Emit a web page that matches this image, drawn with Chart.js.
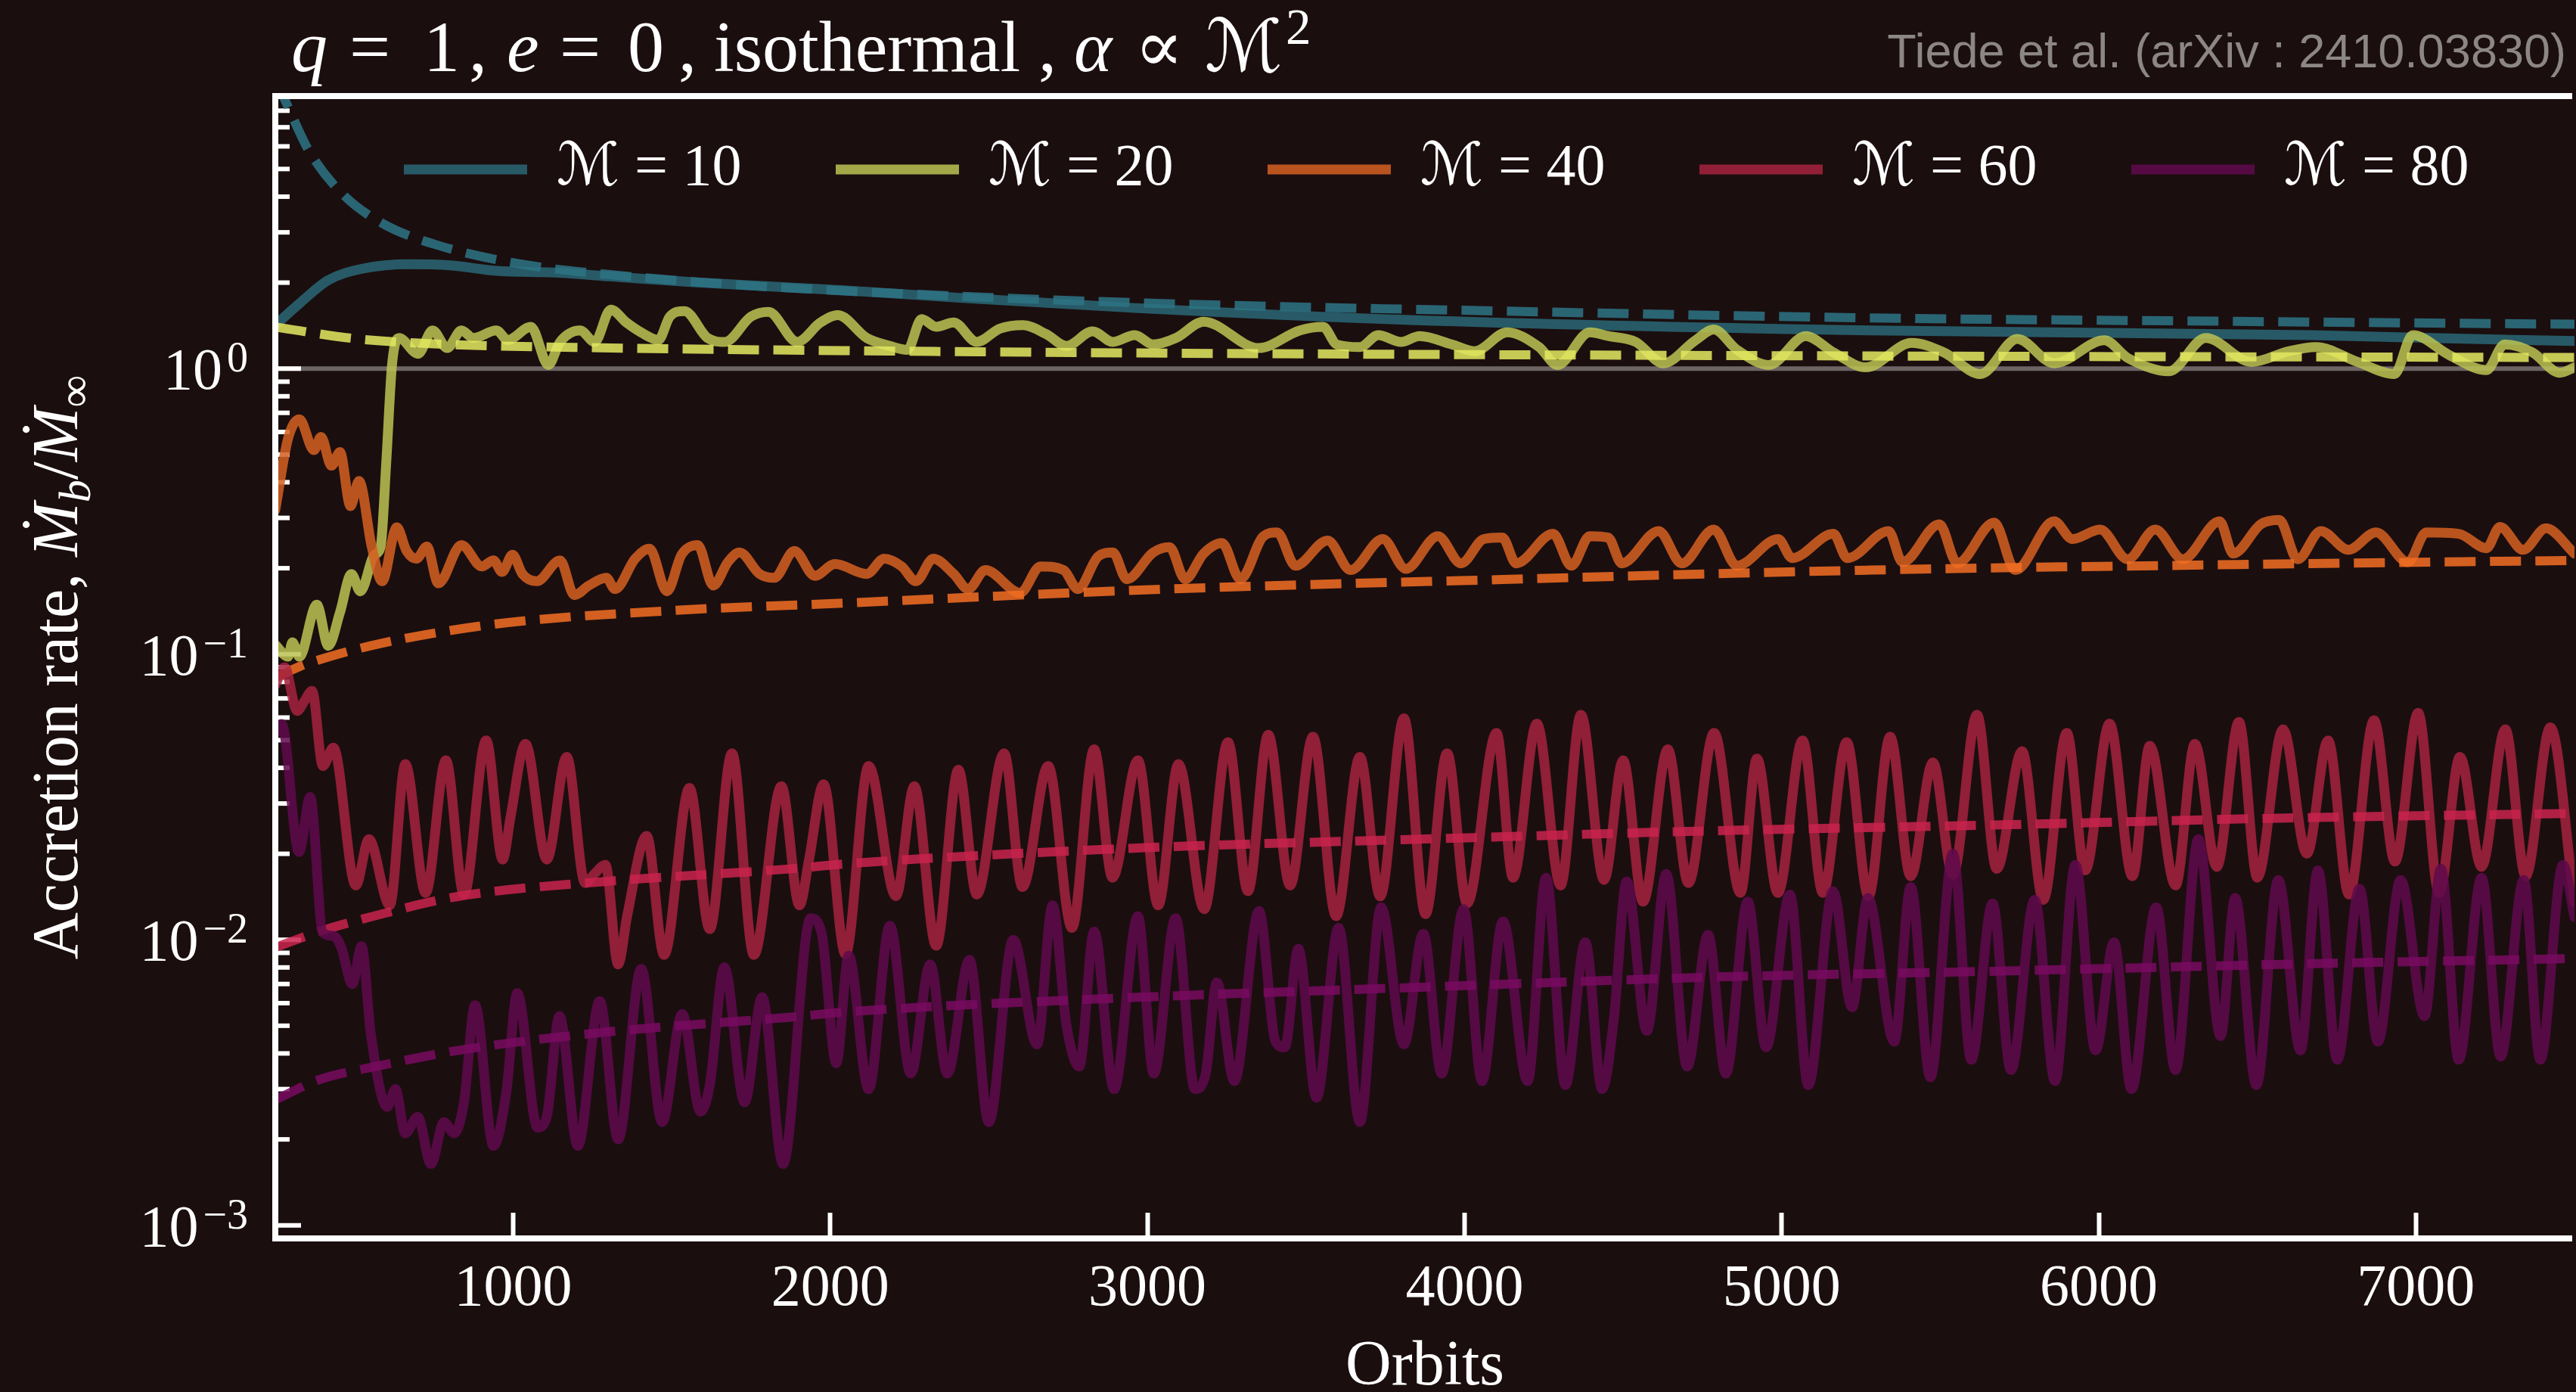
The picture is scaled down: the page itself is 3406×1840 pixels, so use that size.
<!DOCTYPE html>
<html lang="en">
<head>
<meta charset="utf-8">
<title>Binary accretion rate</title>
<script src="https://cdn.jsdelivr.net/npm/chart.js@4.4.1/dist/chart.umd.min.js"></script>
<style>
  html, body { margin: 0; padding: 0; background: #1b0e0f; }
  #wrap { width: 3406px; height: 1840px; }
  canvas { display: block; }
</style>
</head>
<body>
<div id="wrap"><canvas id="acc" width="3406" height="1840"></canvas></div>
<script>
// ---------- data ----------
const machNumbers = [10, 20, 40, 60, 80];

// simulation runs: [orbit, Mdot_b / Mdot_inf]
const m10Sim = [[250,1.42],[326,1.69],[417,2.04],[527,2.24],[673,2.32],[801,2.30],[947,2.20],[1129,2.17],[1312,2.10],[1586,2.00],[2042,1.88],[2407,1.77],[2960,1.63],[3829,1.48],[5279,1.36],[6671,1.31],[7309,1.26],[7500,1.25]];

const m20Sim = [[250,0.108],[290,0.098],[304,0.110],[326,0.098],[381,0.149],[417,0.107],[454,0.140],[490,0.191],[518,0.166],[563,0.223],[582,0.237],[600,0.472],[618,1.03],[640,1.28],[700,1.127],[746,1.36],[792,1.18],[837,1.36],[874,1.28],[947,1.36],[983,1.26],[1056,1.40],[1111,1.03],[1148,1.24],[1211,1.36],[1257,1.24],[1308,1.61],[1357,1.45],[1403,1.34],[1458,1.26],[1494,1.52],[1540,1.59],[1613,1.28],[1668,1.24],[1750,1.52],[1805,1.58],[1896,1.24],[1969,1.45],[2024,1.54],[2115,1.28],[2188,1.20],[2243,1.163],[2288,1.49],[2334,1.40],[2389,1.45],[2462,1.24],[2535,1.38],[2608,1.42],[2681,1.32],[2745,1.20],[2827,1.35],[2891,1.24],[2960,1.31],[3018,1.215],[3090,1.28],[3177,1.46],[3351,1.18],[3481,1.36],[3554,1.40],[3597,1.215],[3670,1.19],[3728,1.31],[3800,1.24],[3858,1.30],[3960,1.215],[4032,1.15],[4134,1.34],[4235,1.19],[4293,1.03],[4395,1.34],[4453,1.30],[4540,1.24],[4627,1.044],[4728,1.256],[4786,1.37],[4859,1.164],[4960,1.03],[5076,1.30],[5163,1.14],[5265,1.01],[5410,1.23],[5511,1.14],[5627,0.957],[5743,1.27],[5859,1.044],[6018,1.256],[6091,1.09],[6221,0.978],[6337,1.28],[6482,1.055],[6598,1.15],[6685,1.19],[6816,1.055],[6932,0.957],[6990,1.31],[7106,1.114],[7222,0.988],[7280,1.215],[7367,1.14],[7454,0.967],[7500,1.01]];

const m40Sim = [[250,0.32],[290,0.568],[326,0.664],[372,0.518],[394,0.577],[427,0.457],[454,0.51],[487,0.33],[514,0.404],[554,0.238],[587,0.18],[633,0.278],[664,0.23],[695,0.216],[728,0.238],[764,0.177],[837,0.241],[901,0.203],[938,0.213],[965,0.194],[998,0.223],[1029,0.191],[1074,0.18],[1148,0.213],[1193,0.161],[1239,0.174],[1294,0.185],[1321,0.169],[1385,0.216],[1430,0.234],[1485,0.166],[1531,0.223],[1582,0.241],[1631,0.174],[1677,0.21],[1714,0.227],[1777,0.191],[1823,0.185],[1887,0.23],[1951,0.188],[2015,0.207],[2115,0.191],[2170,0.216],[2225,0.203],[2270,0.18],[2325,0.216],[2389,0.191],[2435,0.169],[2489,0.197],[2599,0.164],[2663,0.203],[2736,0.197],[2781,0.169],[2845,0.22],[2891,0.227],[2935,0.183],[3018,0.227],[3070,0.237],[3119,0.183],[3177,0.225],[3235,0.245],[3293,0.183],[3366,0.259],[3409,0.267],[3467,0.204],[3568,0.25],[3641,0.197],[3742,0.253],[3815,0.199],[3916,0.259],[3989,0.208],[4061,0.253],[4119,0.256],[4163,0.208],[4279,0.264],[4337,0.204],[4395,0.259],[4453,0.256],[4496,0.208],[4612,0.27],[4685,0.208],[4786,0.273],[4859,0.204],[4989,0.253],[5033,0.217],[5163,0.264],[5207,0.217],[5337,0.27],[5381,0.21],[5497,0.285],[5554,0.208],[5670,0.289],[5737,0.197],[5859,0.292],[5917,0.253],[6004,0.273],[6091,0.215],[6178,0.273],[6265,0.215],[6381,0.292],[6424,0.225],[6511,0.285],[6569,0.295],[6627,0.215],[6700,0.27],[6787,0.232],[6874,0.267],[6975,0.21],[7033,0.267],[7135,0.264],[7222,0.235],[7265,0.279],[7338,0.232],[7410,0.276],[7500,0.225]];

const m60Sim = [[250,0.078],[279,0.090],[319,0.0633],[340,0.068],[366,0.0744],[400,0.0406],[433,0.0471],[504,0.0155],[545,0.0225],[611,0.0132],[660,0.0412],[724,0.0146],[788,0.0425],[845,0.0144],[915,0.0499],[967,0.0191],[992,0.027],[1039,0.0485],[1106,0.0191],[1169,0.0437],[1227,0.0158],[1256,0.017],[1291,0.0183],[1331,0.0082],[1360,0.0122],[1421,0.0231],[1476,0.00885],[1556,0.034],[1620,0.0109],[1690,0.045],[1759,0.00885],[1846,0.0345],[1903,0.0132],[1933,0.0191],[1979,0.035],[2048,0.0089],[2121,0.0406],[2207,0.0142],[2265,0.0345],[2334,0.00953],[2404,0.0394],[2462,0.0144],[2548,0.045],[2606,0.0153],[2687,0.0406],[2762,0.011],[2832,0.0464],[2890,0.0165],[2970,0.0425],[3034,0.0132],[3098,0.0412],[3179,0.0128],[3254,0.0492],[3317,0.0148],[3381,0.0522],[3450,0.0155],[3522,0.0514],[3595,0.0121],[3670,0.0437],[3734,0.0142],[3809,0.0596],[3877,0.0123],[3945,0.045],[4008,0.0134],[4101,0.053],[4153,0.0165],[4228,0.0571],[4303,0.0155],[4367,0.0614],[4440,0.0162],[4500,0.0425],[4563,0.0136],[4641,0.0464],[4706,0.0158],[4787,0.053],[4870,0.0146],[4922,0.0431],[4988,0.0146],[5066,0.0499],[5130,0.0146],[5205,0.0492],[5274,0.0142],[5342,0.0514],[5407,0.0167],[5477,0.0418],[5540,0.0169],[5616,0.0614],[5678,0.0177],[5758,0.0457],[5825,0.0138],[5899,0.053],[5957,0.0175],[6034,0.0571],[6106,0.0167],[6161,0.0478],[6242,0.0155],[6303,0.0485],[6372,0.018],[6442,0.0579],[6500,0.0165],[6581,0.0546],[6656,0.02],[6723,0.0499],[6789,0.0144],[6868,0.0587],[6934,0.0188],[7007,0.0623],[7073,0.0146],[7139,0.0437],[7207,0.018],[7282,0.0546],[7346,0.0167],[7424,0.0554],[7500,0.0135]];

const m80Sim = [[250,0.053],[270,0.057],[325,0.0203],[360,0.0316],[400,0.0106],[435,0.0103],[458,0.0094],[493,0.007],[522,0.0095],[551,0.0047],[603,0.0026],[629,0.003],[660,0.0021],[699,0.0024],[741,0.00164],[782,0.0023],[814,0.0021],[845,0.0027],[880,0.0059],[938,0.0019],[978,0.0029],[1013,0.0065],[1077,0.0022],[1106,0.0024],[1146,0.0054],[1204,0.0019],[1273,0.0061],[1331,0.002],[1404,0.0079],[1470,0.0023],[1533,0.0055],[1591,0.0025],[1620,0.0031],[1666,0.008],[1730,0.0027],[1785,0.0063],[1851,0.00164],[1938,0.0119],[1973,0.0105],[2019,0.0037],[2058,0.0088],[2121,0.003],[2188,0.0112],[2254,0.0034],[2315,0.0082],[2369,0.0034],[2439,0.0085],[2500,0.0023],[2577,0.01],[2652,0.0043],[2701,0.0132],[2745,0.005],[2785,0.0036],[2832,0.0107],[2895,0.003],[2970,0.0121],[3020,0.0034],[3089,0.0119],[3150,0.003],[3184,0.0034],[3219,0.0071],[3274,0.0032],[3352,0.0126],[3404,0.0044],[3433,0.0042],[3476,0.0093],[3533,0.0028],[3603,0.011],[3670,0.0023],[3737,0.013],[3809,0.0043],[3870,0.0105],[3928,0.0034],[3997,0.0128],[4055,0.0032],[4121,0.0116],[4199,0.0032],[4257,0.0165],[4318,0.0031],[4381,0.0098],[4434,0.003],[4471,0.0053],[4511,0.016],[4575,0.0048],[4636,0.017],[4702,0.0036],[4768,0.0104],[4824,0.0034],[4893,0.0136],[4951,0.0042],[5026,0.0144],[5084,0.0031],[5162,0.0148],[5222,0.0058],[5272,0.014],[5355,0.0044],[5407,0.0153],[5469,0.0033],[5540,0.02],[5598,0.0038],[5665,0.0134],[5723,0.0035],[5798,0.0138],[5862,0.0032],[5926,0.0183],[5990,0.0041],[6048,0.0098],[6103,0.003],[6181,0.013],[6242,0.0035],[6314,0.0225],[6384,0.0046],[6430,0.014],[6497,0.0031],[6566,0.0162],[6636,0.0041],[6691,0.0175],[6752,0.0038],[6822,0.0151],[6880,0.0044],[6952,0.0162],[7027,0.0054],[7079,0.0177],[7135,0.0038],[7207,0.0165],[7267,0.0039],[7340,0.0162],[7392,0.0038],[7464,0.0183],[7500,0.012]];

// fitted trends for each run
const m10Fit = [[250,10.3],[290,8.27],[353,5.87],[454,4.17],[582,3.25],[764,2.70],[1038,2.31],[1312,2.13],[1677,1.975],[2225,1.83],[3046,1.69],[4119,1.59],[5279,1.505],[6439,1.463],[7500,1.43]];
const m20Fit = [[250,1.40],[490,1.277],[764,1.219],[1312,1.181],[2042,1.156],[3046,1.133],[5279,1.107],[7500,1.094]];
const m40Fit = [[250,0.0825],[326,0.0905],[399,0.0964],[582,0.109],[947,0.1276],[1494,0.142],[2042,0.151],[3046,0.1688],[4119,0.1826],[5279,0.197],[6439,0.206],[7500,0.213]];
const m60Fit = [[250,0.0094],[390,0.0107],[560,0.0121],[830,0.0142],[1290,0.016],[1870,0.0177],[2063,0.0185],[2990,0.021],[3800,0.0224],[4800,0.0241],[5650,0.0252],[6600,0.0267],[7500,0.0277]];
const m80Fit = [[250,0.00275],[389,0.00324],[562,0.00359],[828,0.0041],[1291,0.00475],[1869,0.00535],[2063,0.0056],[2988,0.0063],[3797,0.00678],[4800,0.00741],[5644,0.00775],[6615,0.00822],[7500,0.0086]];

const orbitRange = [250, 7500];
const orbitTicks = [1000, 2000, 3000, 4000, 5000, 6000, 7000];
const rateRange = [9e-4, 9];
const decadeExps = [-4, -3, -2, -1, 0];
const unityRate = 1;
const creditText = 'Tiede et al. (arXiv : 2410.03830)';

// ---------- styling ----------
const BG = '#1b0e0f';
const SERIF = '"Liberation Serif", "DejaVu Serif", "DejaVu Sans", serif';
const SANS = '"Liberation Sans", "DejaVu Sans", sans-serif';

const simColors = ['rgba(42,103,117,0.86)', 'rgba(187,193,81,0.86)', 'rgba(212,95,34,0.86)', 'rgba(164,34,62,0.86)', 'rgba(96,9,77,0.86)'];
const fitColors = ['rgba(45,115,133,0.86)', 'rgba(227,232,96,0.86)', 'rgba(242,110,35,0.86)', 'rgba(202,35,77,0.86)', 'rgba(120,10,96,0.86)'];

const simSeries = [m10Sim, m20Sim, m40Sim, m60Sim, m80Sim];
const fitSeries = [m10Fit, m20Fit, m40Fit, m60Fit, m80Fit];

// minor/major ticks for the log axis, 1..9 per decade
const yTickValues = [];
decadeExps.forEach(e => {
  for (let m = 1; m <= 9; m++) {
    const v = m * Math.pow(10, e);
    if (v > rateRange[0] * 1.0001 && v < rateRange[1] * 0.9999) yTickValues.push({ value: v, major: m === 1 });
  }
});

function font(size, italic, fam) {
  return (italic ? 'italic ' : '') + size + 'px ' + (fam || SERIF);
}

// mixed-style text runs (italic, sub/superscript)
function partSize(p, size) { return p.sub || p.sup ? size * 0.7 : size; }
function partShift(p, size) { return p.sub ? size * 0.2 : p.sup ? -size * 0.38 : 0; }
function richWidth(ctx, parts, size) {
  return parts.reduce((w, p) => {
    ctx.font = font(partSize(p, size), p.it);
    return w + ctx.measureText(p.t).width;
  }, 0);
}
function drawRich(ctx, parts, x, y, size) {
  let cx = x;
  parts.forEach(p => {
    const px = p.at !== undefined ? p.at : cx;
    ctx.font = font(partSize(p, size), p.it);
    ctx.fillText(p.t, px, y + partShift(p, size));
    cx = px + ctx.measureText(p.t).width;
  });
}

const titleParts = [
  { t: 'q', it: true, at: 385 }, { t: '=', at: 462 }, { t: '1', at: 560 }, { t: ',', at: 620 },
  { t: 'e', it: true, at: 670 }, { t: '=', at: 740 }, { t: '0', at: 830 }, { t: ',', at: 897 },
  { t: 'isothermal', at: 944 }, { t: ',', at: 1373 }, { t: 'α', it: true, at: 1420 },
  { t: '∝', at: 1500 }, { t: 'ℳ', at: 1593 }, { t: '2', sup: true, at: 1700 }
];
const yTitleParts = [
  { t: 'Accretion rate, ' }, { t: 'Ṁ', it: true }, { t: 'b', it: true, sub: true },
  { t: '/' }, { t: 'Ṁ', it: true }, { t: '∞', sub: true }
];

// legend spacing: keep entries on a fixed pitch
const LEGEND_FONT = 78, LEGEND_BOX = 163, LEGEND_PITCH = 571;
const probe = document.createElement('canvas').getContext('2d');
probe.font = font(LEGEND_FONT);
const legendPad = Math.max(10, LEGEND_PITCH - LEGEND_BOX - LEGEND_FONT / 2 - probe.measureText('ℳ = 10').width);

const decor = {
  id: 'decor',
  beforeDraw(chart) {
    const ctx = chart.ctx;
    ctx.save();
    ctx.fillStyle = BG;
    ctx.fillRect(0, 0, chart.width, chart.height);
    ctx.restore();
  },
  afterLayout(chart) {
    // put the legend row inside the top of the plot box
    const lg = chart.legend, a = chart.chartArea;
    lg.left = a.left + 170 - legendPad;
    lg.right = chart.width;
    lg.top = a.top + 58 - legendPad;
    lg.bottom = lg.top + 200;
    lg.width = lg.right - lg.left;
    lg.height = lg.bottom - lg.top;
  },
  beforeDatasetsDraw(chart) {
    const { ctx, chartArea: a, scales: { y } } = chart;
    ctx.save();
    ctx.strokeStyle = '#ffffff';
    ctx.lineWidth = 6;
    y.ticks.forEach(t => {
      const py = y.getPixelForValue(t.value);
      ctx.beginPath();
      ctx.moveTo(a.left, py);
      ctx.lineTo(a.left + (t.major ? 34 : 19), py);
      ctx.stroke();
    });
    ctx.restore();
  },
  afterDatasetsDraw(chart) {
    const { ctx, chartArea: a } = chart;
    ctx.save();
    ctx.strokeStyle = '#ffffff';
    ctx.lineWidth = 8;
    ctx.lineJoin = 'miter';
    ctx.beginPath();
    ctx.moveTo(a.right - 3, a.top);
    ctx.lineTo(a.left, a.top);
    ctx.lineTo(a.left, a.bottom);
    ctx.lineTo(a.right - 3, a.bottom);
    ctx.stroke();
    ctx.restore();
  },
  afterDraw(chart) {
    const { ctx, chartArea: a, scales: { y } } = chart;
    ctx.save();
    ctx.fillStyle = '#ffffff';
    ctx.textBaseline = 'alphabetic';

    // y tick labels as 10^n
    y.ticks.filter(t => t.major).forEach(t => {
      const py = y.getPixelForValue(t.value);
      const e = Math.round(Math.log10(t.value));
      const sup = e < 0 ? '−' + (-e) : String(e);
      const xr = a.left - 36;
      ctx.textAlign = 'right';
      ctx.font = font(56);
      ctx.fillText(sup, xr, py + 4);
      const sw = ctx.measureText(sup).width;
      ctx.font = font(78);
      ctx.fillText('10', xr - sw - 6, py + 27);
    });

    // title
    ctx.textAlign = 'left';
    drawRich(ctx, titleParts, 385, 94, 96);

    // y axis title
    ctx.save();
    ctx.translate(102, (a.top + a.bottom) / 2);
    ctx.rotate(-Math.PI / 2);
    const w = richWidth(ctx, yTitleParts, 86);
    drawRich(ctx, yTitleParts, -w / 2, 0, 86);
    ctx.restore();

    // credit line
    ctx.textAlign = 'right';
    ctx.fillStyle = '#8c8686';
    ctx.font = font(63, false, SANS);
    ctx.fillText(creditText, chart.width - 13, 89);
    ctx.restore();
  }
};

// ---------- datasets ----------
const datasets = [{
  label: 'unity',
  role: 'ref',
  data: [[orbitRange[0], unityRate], [orbitRange[1], unityRate]],
  borderColor: 'rgba(255,255,255,0.36)',
  borderWidth: 6,
  pointRadius: 0,
  clip: 0,
  order: 100
}];
machNumbers.forEach((m, i) => {
  datasets.push({
    label: 'ℳ = ' + m,
    role: 'sim',
    data: simSeries[i],
    borderColor: simColors[i],
    backgroundColor: simColors[i],
    borderWidth: 13,
    borderJoinStyle: 'round',
    borderCapStyle: 'round',
    cubicInterpolationMode: 'monotone',
    pointRadius: 0,
    clip: 0,
    order: 20 - 2 * i
  });
  datasets.push({
    label: 'ℳ = ' + m + ' trend',
    role: 'fit',
    data: fitSeries[i],
    borderColor: fitColors[i],
    backgroundColor: fitColors[i],
    borderWidth: 12,
    borderDash: [41, 19],
    borderCapStyle: 'butt',
    cubicInterpolationMode: 'monotone',
    pointRadius: 0,
    clip: 0,
    order: 19 - 2 * i
  });
});

Chart.defaults.color = '#ffffff';
Chart.defaults.font.family = SERIF;

new Chart(document.getElementById('acc'), {
  type: 'line',
  data: { datasets },
  plugins: [decor],
  options: {
    responsive: false,
    animation: false,
    devicePixelRatio: 1,
    events: [],
    layout: { padding: { top: 127, right: 2, bottom: 0, left: 0 }, autoPadding: false },
    plugins: {
      tooltip: { enabled: false },
      title: { display: false },
      legend: {
        display: true,
        position: 'top',
        align: 'start',
        maxHeight: 0.001,
        labels: {
          color: '#ffffff',
          font: { family: SERIF, size: LEGEND_FONT },
          boxWidth: LEGEND_BOX,
          boxHeight: 13,
          padding: legendPad,
          filter: (item, data) => data.datasets[item.datasetIndex].role === 'sim',
          sort: (a, b) => a.datasetIndex - b.datasetIndex,
          generateLabels: chart => Chart.defaults.plugins.legend.labels.generateLabels(chart)
            .map(l => Object.assign(l, { fillStyle: l.strokeStyle, lineWidth: 0, lineDash: [] }))
        }
      }
    },
    scales: {
      x: {
        type: 'linear',
        min: orbitRange[0],
        max: orbitRange[1],
        afterBuildTicks: s => { s.ticks = orbitTicks.map(v => ({ value: v })); },
        afterFit: s => { s.height = 203; },
        border: { display: false },
        grid: { drawOnChartArea: false, drawTicks: true, tickLength: -34, tickWidth: 6, tickColor: '#ffffff' },
        ticks: {
          autoSkip: false,
          maxRotation: 0,
          color: '#ffffff',
          padding: 63,
          font: { family: SERIF, size: 78, lineHeight: 1 },
          callback: v => String(v)
        },
        title: {
          display: true,
          text: 'Orbits',
          color: '#ffffff',
          font: { family: SERIF, size: 84, lineHeight: 0.76 },
          padding: { top: 0, bottom: 0 }
        }
      },
      y: {
        type: 'logarithmic',
        min: rateRange[0],
        max: rateRange[1],
        afterBuildTicks: s => { s.ticks = yTickValues.map(t => ({ value: t.value, major: t.major })); },
        afterFit: s => { s.width = 364; },
        border: { display: false },
        grid: { display: false },
        ticks: { display: false }
      }
    }
  }
});
</script>
</body>
</html>
